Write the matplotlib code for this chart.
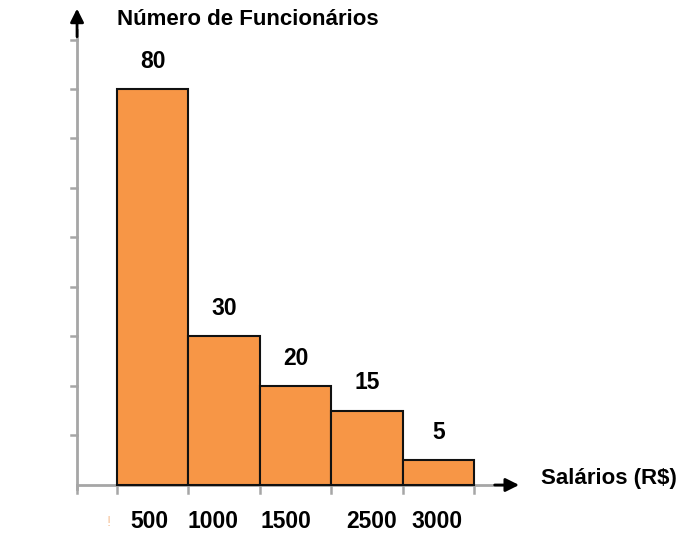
import matplotlib.pyplot as plt
import numpy as np

# Dados do histograma
salarios = ['500', '1000', '1500', '2500', '3000']
funcionarios = [80, 30, 20, 15, 5]
y_ticks = [10, 20, 30, 40, 50, 60, 70, 80, 90]

plt.rcParams['font.family'] = ['Liberation Sans', 'DejaVu Sans']

fig = plt.figure(figsize=(6.91, 5.34), dpi=100)
ax = fig.add_axes([0, 0, 1, 1])
ax.set_xlim(-1.639, 8.039)
ax.set_ylim(-9.9, 97.98)
ax.axis('off')

x = np.arange(len(funcionarios))

# Barras
ax.bar(x, funcionarios, width=1.0, align='edge', color='#F79646',
       edgecolor='#111111', linewidth=1.5, zorder=3)

# Eixos com setas
x0 = -0.56
ax.plot([x0, 5.4], [0, 0], color='#a6a6a6', lw=2, zorder=2)
ax.plot([x0, x0], [-0.8, 92], color='#a6a6a6', lw=2, zorder=2)
ax.annotate('', xy=(5.67, 0), xytext=(5.25, 0),
            arrowprops=dict(arrowstyle='-|>', color='black', lw=2, mutation_scale=20))
ax.annotate('', xy=(x0, 96.8), xytext=(x0, 90),
            arrowprops=dict(arrowstyle='-|>', color='black', lw=2, mutation_scale=20))

# Marcas do eixo y
for t in y_ticks:
    ax.plot([x0 - 0.09, x0], [t, t], color='#a6a6a6', lw=1.8, zorder=2)

# Marcas do eixo x nas bordas das classes
for e in [x0] + list(np.arange(len(funcionarios) + 1)):
    ax.plot([e, e], [0, -1.6], color='#a6a6a6', lw=1.8, zorder=2)

# Valores sobre as barras
for xi, v in zip(x, funcionarios):
    ax.text(xi + 0.5, v + 3.3, str(v), ha='center', va='bottom',
            fontsize=16.5, fontweight='bold', color='black')

# Rótulos do eixo x (levemente deslocados como no original)
desloc = [0.45, 0.35, 0.37, 0.57, 0.48]
for xi, lab, d in zip(x, salarios, desloc):
    ax.text(xi + d, -7.4, lab, ha='center', va='center',
            fontsize=16.5, fontweight='bold', color='black')

ax.text(x0 + 0.45, -7.4, '!', ha='center', va='center', fontsize=11,
        color='#f0a060', alpha=0.6)

ax.text(0.0, 94.0, 'Número de Funcionários', ha='left', va='center',
        fontsize=16, fontweight='bold', color='black')
ax.text(5.94, 1.4, 'Salários (R$)', ha='left', va='center',
        fontsize=16, fontweight='bold', color='black')

fig.savefig('out.png', dpi=100)
